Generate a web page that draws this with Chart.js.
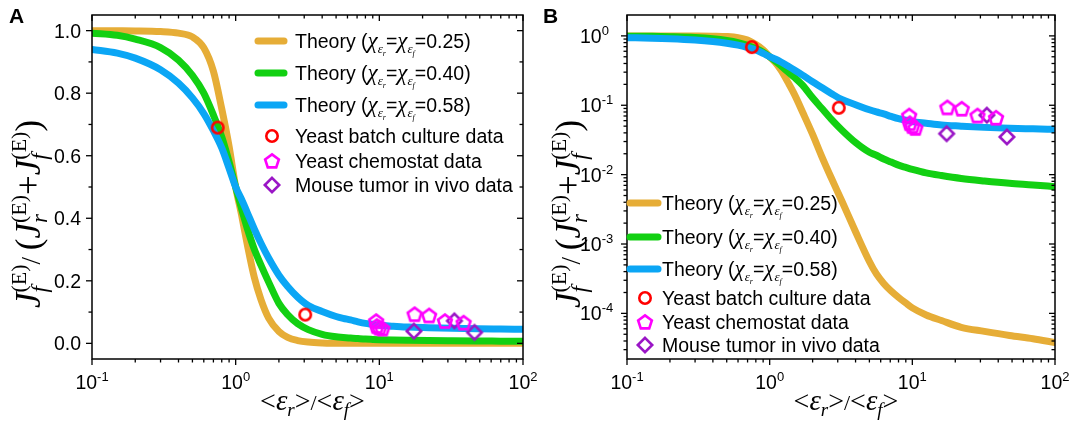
<!DOCTYPE html>
<html>
<head>
<meta charset="utf-8">
<script src="https://cdn.jsdelivr.net/npm/chart.js@4.4.0/dist/chart.umd.min.js"></script>
<style>
  body { margin: 0; background: #fff; }
  #wrap { position: relative; width: 1073px; height: 423px; }
  canvas { position: absolute; top: 0; }
</style>
</head>
<body>
<div id="wrap">
  <canvas id="chartA" width="537" height="423" style="left:0;width:537px;height:423px"></canvas>
  <canvas id="chartB" width="536" height="423" style="left:537px;width:536px;height:423px"></canvas>
</div>
<script>
// <εr>/<εf> sample points for the theory curves
const ratio = [0.1, 0.15, 0.2, 0.3, 0.4, 0.5, 0.6, 0.7, 0.8, 0.9, 1.0, 1.1, 1.2, 1.35, 1.5, 1.7, 2.0, 2.3, 2.7, 3.2, 4, 5, 5.6, 6.3, 7.1, 8, 9, 10, 12.5, 16, 22, 32, 48, 70, 100];
const theory025 = [0.9995, 0.9993, 0.999, 0.997, 0.992, 0.98, 0.945, 0.87, 0.75, 0.63, 0.5, 0.41, 0.32, 0.21, 0.14, 0.08, 0.038, 0.019, 0.009, 0.0042, 0.0015, 0.00056, 0.00037, 0.00027, 0.00021, 0.00017, 0.000141, 0.00012, 0.000095, 0.000079, 0.000063, 0.000055, 0.000048, 0.000043, 0.000038];
const theory040 = [0.992, 0.985, 0.973, 0.946, 0.906, 0.857, 0.8, 0.73, 0.66, 0.58, 0.5, 0.43, 0.37, 0.3, 0.25, 0.195, 0.128, 0.092, 0.063, 0.044, 0.029, 0.021, 0.019, 0.0168, 0.0152, 0.0137, 0.0127, 0.0119, 0.0106, 0.0097, 0.0088, 0.0081, 0.0075, 0.0071, 0.0067];
const theory058 = [0.94, 0.928, 0.912, 0.875, 0.832, 0.785, 0.735, 0.68, 0.625, 0.56, 0.5, 0.46, 0.42, 0.365, 0.32, 0.272, 0.218, 0.182, 0.148, 0.121, 0.102, 0.086, 0.08, 0.075, 0.069, 0.064, 0.061, 0.058, 0.055, 0.052, 0.05, 0.048, 0.0465, 0.0457, 0.045];

// measured data
const batchX = [0.75, 3.05];
const batchY = [0.69, 0.092];
const chemostatX = [9.5, 9.6, 10.0, 10.5, 17.6, 22.2, 28.6, 38.6];
const chemostatY = [0.071, 0.055, 0.05, 0.047, 0.093, 0.089, 0.071, 0.066];
const mouseX = [17.4, 33.3, 46];
const mouseY = [0.039, 0.072, 0.035];

// axis ticks
const xTicks = [0.1, 1, 10, 100];
const xTickExp = ["-1", "0", "1", "2"];
const yTicksA = [0, 0.2, 0.4, 0.6, 0.8, 1.0];
const yTicksB = [1e-4, 1e-3, 1e-2, 1e-1, 1];
const yTickExpB = ["-4", "-3", "-2", "-1", "0"];
const theoryLabels = ["0.25", "0.40", "0.58"];

const SANS = '"Liberation Sans", Arial, sans-serif';
const SERIF = '"Liberation Serif", "Times New Roman", serif';
const ORANGE = "#E6AD37", GREEN = "#12D012", BLUE = "#0BA6F5";
const RED = "#FF0000", MAGENTA = "#FF00FF", PURPLE = "#9A15C6";

// marker images used both in the plot and the legend
function makeMarker(kind, color) {
  const c = document.createElement("canvas");
  c.width = 20; c.height = 20;
  const g = c.getContext("2d");
  g.strokeStyle = color; g.lineWidth = 2.6; g.lineJoin = "miter";
  g.beginPath();
  if (kind === "circle") {
    g.arc(10, 10, 5.7, 0, Math.PI * 2);
  } else if (kind === "pentagon") {
    for (let k = 0; k < 5; k++) {
      const a = -Math.PI / 2 + k * 2 * Math.PI / 5;
      const px = 10 + 7.2 * Math.cos(a), py = 10.6 + 7.2 * Math.sin(a);
      k ? g.lineTo(px, py) : g.moveTo(px, py);
    }
    g.closePath();
  } else {
    g.moveTo(10, 2.8); g.lineTo(17.2, 10); g.lineTo(10, 17.2); g.lineTo(2.8, 10); g.closePath();
  }
  g.stroke();
  return c;
}
const mCircle = makeMarker("circle", RED);
const mPenta = makeMarker("pentagon", MAGENTA);
const mDiamond = makeMarker("diamond", PURPLE);

// draw a run of text pieces (for sub/superscripts)
function drawRuns(ctx, x, y, parts, align) {
  let cur = 0, start = 0, w = 0;
  const pos = [];
  parts.forEach((p) => {
    ctx.font = p.f;
    if (p.stack) cur = start; else start = cur;
    pos.push(cur);
    cur += ctx.measureText(p.t).width;
    w = Math.max(w, cur);
  });
  const x0 = align === "center" ? x - w / 2 : align === "right" ? x - w : x;
  ctx.textAlign = "left";
  ctx.textBaseline = "alphabetic";
  parts.forEach((p, i) => {
    ctx.font = p.f;
    ctx.fillText(p.t, x0 + pos[i], y + (p.dy || 0));
  });
}

function theoryRuns(val) {
  return [
    { t: "Theory (", f: "19.5px " + SANS },
    { t: "\u03C7", f: "italic 23px " + SERIF },
    { t: "\u03B5", f: "italic 13px " + SERIF, dy: 5 },
    { t: "r", f: "italic 8px " + SERIF, dy: 8 },
    { t: "=", f: "19.5px " + SANS },
    { t: "\u03C7", f: "italic 23px " + SERIF },
    { t: "\u03B5", f: "italic 13px " + SERIF, dy: 5 },
    { t: "f", f: "italic 8px " + SERIF, dy: 8 },
    { t: "=" + val + ")", f: "19.5px " + SANS },
  ];
}

const yTitle = [
  { t: "J", f: "italic 35px " + SERIF },
  { t: "f", f: "italic 23px " + SERIF, dy: 7 },
  { t: "(E)", f: "22px " + SERIF, dy: -14, stack: true },
  { t: "/ ", f: "27px " + SERIF },
  { t: "(", f: "35px " + SERIF },
  { t: "J", f: "italic 35px " + SERIF },
  { t: "r", f: "italic 23px " + SERIF, dy: 7 },
  { t: "(E)", f: "22px " + SERIF, dy: -14, stack: true },
  { t: "+", f: "35px " + SERIF },
  { t: "J", f: "italic 35px " + SERIF },
  { t: "f", f: "italic 23px " + SERIF, dy: 7 },
  { t: "(E)", f: "22px " + SERIF, dy: -14, stack: true },
  { t: ")", f: "35px " + SERIF },
];
const xTitle = [
  { t: "<", f: "28px " + SERIF },
  { t: "\u03B5", f: "italic 29px " + SERIF },
  { t: "r", f: "italic 19px " + SERIF, dy: 6 },
  { t: ">", f: "28px " + SERIF },
  { t: "/", f: "22px " + SERIF },
  { t: "<", f: "28px " + SERIF },
  { t: "\u03B5", f: "italic 29px " + SERIF },
  { t: "f", f: "italic 19px " + SERIF, dy: 6 },
  { t: ">", f: "28px " + SERIF },
];

function minorLog(lo, hi) {
  const out = [];
  for (let d = Math.pow(10, Math.floor(Math.log10(lo))); d < hi; d *= 10) {
    for (let m = 2; m < 10; m++) {
      const v = d * m;
      if (v > lo && v < hi) out.push(v);
    }
  }
  return out;
}

// frame, ticks, labels and legend
const decor = {
  id: "decor",
  afterDraw(chart, args, o) {
    const ctx = chart.ctx, a = chart.chartArea;
    const xs = chart.scales.x, ys = chart.scales.y;
    ctx.save();
    ctx.fillStyle = "#000";
    ctx.strokeStyle = "#000";
    const line = (x1, y1, x2, y2) => { ctx.beginPath(); ctx.moveTo(x1, y1); ctx.lineTo(x2, y2); ctx.stroke(); };

    // x ticks: out at bottom, in at top
    ctx.lineWidth = 1.3;
    xTicks.forEach((v) => {
      const px = xs.getPixelForValue(v);
      line(px, a.bottom, px, a.bottom + 6);
      line(px, a.top, px, a.top + 6);
    });
    minorLog(xs.min, xs.max).forEach((v) => {
      const px = xs.getPixelForValue(v);
      line(px, a.bottom, px, a.bottom + 3.5);
      line(px, a.top, px, a.top + 3.5);
    });
    xTicks.forEach((v, i) => {
      drawRuns(ctx, xs.getPixelForValue(v), a.bottom + 30, [
        { t: "10", f: "19.5px " + SANS },
        { t: xTickExp[i], f: "13px " + SANS, dy: -8 },
      ], "center");
    });

    // y ticks
    if (o.log) {
      yTicksB.forEach((v, i) => {
        const py = ys.getPixelForValue(v);
        line(a.left - 6, py, a.left, py);
        line(a.right - 6, py, a.right, py);
        drawRuns(ctx, a.left - 47, py + 7, [
          { t: "10", f: "19.5px " + SANS },
          { t: yTickExpB[i], f: "13px " + SANS, dy: -8 },
        ], "left");
      });
      minorLog(ys.min, ys.max).forEach((v) => {
        const py = ys.getPixelForValue(v);
        line(a.left - 3.5, py, a.left, py);
        line(a.right - 3.5, py, a.right, py);
      });
    } else {
      yTicksA.forEach((v) => {
        const py = ys.getPixelForValue(v);
        line(a.left - 6, py, a.left, py);
        line(a.right - 6, py, a.right, py);
        ctx.font = "19.5px " + SANS;
        ctx.textAlign = "right";
        ctx.textBaseline = "alphabetic";
        ctx.fillText(v.toFixed(1), a.left - 11, py + 7);
      });
      for (let k = 0; k < yTicksA.length - 1; k++) {
        const py = ys.getPixelForValue((yTicksA[k] + yTicksA[k + 1]) / 2);
        line(a.left - 3.5, py, a.left, py);
        line(a.right - 3.5, py, a.right, py);
      }
    }

    // frame
    ctx.lineWidth = 1.5;
    ctx.strokeRect(a.left, a.top, a.right - a.left, a.bottom - a.top);

    // axis titles
    drawRuns(ctx, (a.left + a.right) / 2 + 5, 410, xTitle, "center");
    ctx.save();
    ctx.translate(o.yTitleX, o.yTitleY);
    ctx.rotate(-Math.PI / 2);
    drawRuns(ctx, 0, 0, yTitle, "center");
    ctx.restore();

    // panel letter
    ctx.font = "bold 21px " + SANS;
    ctx.textAlign = "left";
    ctx.fillText(o.letter, o.letterX, 23);

    // legend
    const L = o.legend;
    [ORANGE, GREEN, BLUE].forEach((c, i) => {
      ctx.strokeStyle = c;
      ctx.lineWidth = 7;
      ctx.lineCap = "round";
      line(L.lx1, L.rows[i], L.lx2, L.rows[i]);
      ctx.fillStyle = "#000";
      drawRuns(ctx, L.tx, L.rows[i] + 7, theoryRuns(theoryLabels[i]), "left");
    });
    [[mCircle, "Yeast batch culture data"], [mPenta, "Yeast chemostat data"], [mDiamond, "Mouse tumor in vivo data"]].forEach(([img, txt], i) => {
      const y = L.rows[i + 3];
      ctx.drawImage(img, L.mx - 10, y - 10);
      ctx.font = "19.5px " + SANS;
      ctx.textAlign = "left";
      ctx.fillText(txt, L.tx, y + 7);
    });
    ctx.restore();
  },
};

function pts(xv, yv) { return xv.map((x, i) => ({ x: x, y: yv[i] })); }

function makeChart(id, log, opts, pad) {
  const theory = (data, color, order) => ({
    data: pts(ratio, data), showLine: true, borderColor: color, borderWidth: 7,
    borderCapStyle: "round", pointRadius: 0, cubicInterpolationMode: "monotone", order: order,
  });
  const marks = (x, y, img) => ({
    data: pts(x, y), showLine: false, pointStyle: img, pointRadius: 7, order: 0,
  });
  return new Chart(document.getElementById(id), {
    type: "scatter",
    data: {
      datasets: [
        theory(theory025, ORANGE, 3),
        theory(theory040, GREEN, 2),
        theory(theory058, BLUE, 1),
        marks(batchX, batchY, mCircle),
        marks(chemostatX, chemostatY, mPenta),
        marks(mouseX, mouseY, mDiamond),
      ],
    },
    options: {
      responsive: false,
      animation: false,
      layout: { padding: pad },
      plugins: { legend: { display: false }, tooltip: { enabled: false }, decor: opts },
      scales: {
        x: { type: "logarithmic", min: 0.1, max: 100, display: false },
        y: log
          ? { type: "logarithmic", min: 2.2e-5, max: 2.0, display: false }
          : { type: "linear", min: -0.05, max: 1.05, display: false },
      },
    },
    plugins: [decor],
  });
}

makeChart("chartA", false, {
  log: false, letter: "A", letterX: 9, yTitleX: 40, yTitleY: 214,
  legend: { lx1: 258, lx2: 284, mx: 272, tx: 295, rows: [41, 73, 105, 136, 161, 185] },
}, { left: 92, top: 15, right: 14, bottom: 64 });

makeChart("chartB", true, {
  log: true, letter: "B", letterX: 6, yTitleX: 43, yTitleY: 214,
  legend: { lx1: 93, lx2: 121, mx: 108, tx: 125, rows: [203, 237, 269, 298, 322, 345] },
}, { left: 90, top: 15, right: 18, bottom: 64 });
</script>
</body>
</html>
